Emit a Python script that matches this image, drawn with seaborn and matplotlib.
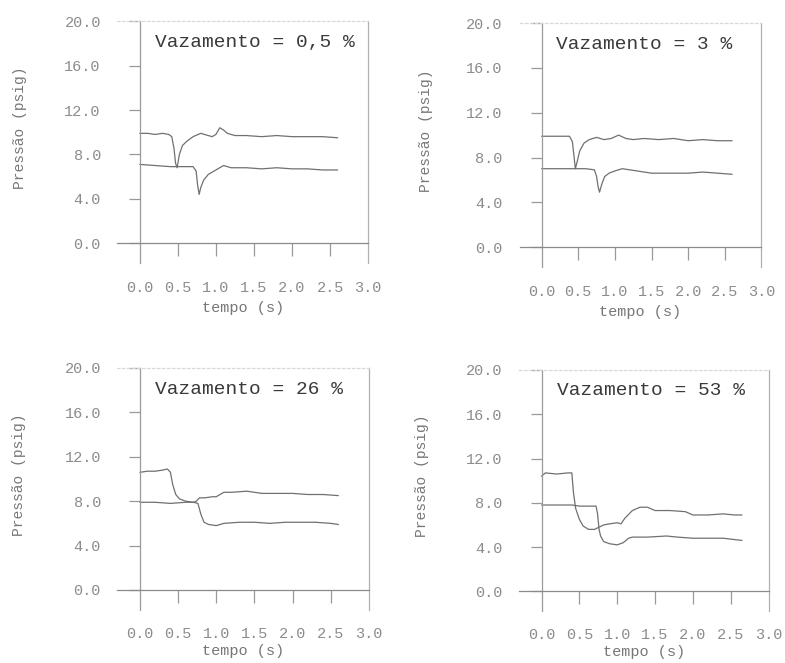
import numpy as np
import pandas as pd
import matplotlib
matplotlib.use('Agg')
import matplotlib.pyplot as plt
import seaborn as sns

sns.set_style('white')
plt.rcParams['font.family'] = ['Liberation Mono', 'DejaVu Sans Mono']

# Vazamento = 0,5 %
t_05_sup = [0, 0.1, 0.2, 0.3, 0.38, 0.42, 0.45, 0.47, 0.49, 0.52, 0.56, 0.62, 0.7, 0.8, 0.9, 0.95,
            1.0, 1.05, 1.1, 1.15, 1.25, 1.4, 1.6, 1.8, 2.0, 2.2, 2.4, 2.6]
p_05_sup = [9.9, 9.9, 9.8, 9.9, 9.8, 9.6, 8.5, 7.2, 6.8, 8.0, 8.8, 9.2, 9.6, 9.9, 9.7, 9.6,
            9.8, 10.4, 10.2, 9.9, 9.7, 9.7, 9.6, 9.7, 9.6, 9.6, 9.6, 9.5]
t_05_inf = [0, 0.2, 0.4, 0.6, 0.7, 0.74, 0.76, 0.78, 0.8, 0.84, 0.9, 1.0, 1.1, 1.2, 1.4, 1.6,
            1.8, 2.0, 2.2, 2.4, 2.6]
p_05_inf = [7.1, 7.0, 6.9, 6.9, 6.9, 6.5, 5.2, 4.4, 5.0, 5.7, 6.2, 6.6, 7.0, 6.8, 6.8, 6.7,
            6.8, 6.7, 6.7, 6.6, 6.6]

# Vazamento = 3 %
t_3_sup = [0, 0.1, 0.2, 0.3, 0.38, 0.42, 0.44, 0.46, 0.48, 0.52, 0.58, 0.65, 0.75, 0.85, 0.95,
           1.05, 1.15, 1.25, 1.4, 1.6, 1.8, 2.0, 2.2, 2.4, 2.6]
p_3_sup = [9.9, 9.9, 9.9, 9.9, 9.9, 9.4, 8.2, 7.0, 7.5, 8.6, 9.3, 9.6, 9.8, 9.6, 9.7,
           10.0, 9.7, 9.6, 9.7, 9.6, 9.7, 9.5, 9.6, 9.5, 9.5]
t_3_inf = [0, 0.2, 0.4, 0.6, 0.72, 0.75, 0.77, 0.79, 0.82, 0.86, 0.92, 1.0, 1.1, 1.3, 1.5,
           1.7, 2.0, 2.2, 2.4, 2.6]
p_3_inf = [7.0, 7.0, 7.0, 7.0, 6.9, 6.3, 5.4, 4.9, 5.6, 6.3, 6.6, 6.8, 7.0, 6.8, 6.6,
           6.6, 6.6, 6.7, 6.6, 6.5]

# Vazamento = 26 %
t_26_sup = [0, 0.1, 0.2, 0.3, 0.36, 0.4, 0.43, 0.47, 0.52, 0.6, 0.7, 0.76, 0.8, 0.84, 0.9,
            1.0, 1.1, 1.3, 1.5, 1.7, 1.9, 2.1, 2.3, 2.5, 2.6]
p_26_sup = [10.6, 10.7, 10.7, 10.8, 10.9, 10.6, 9.5, 8.6, 8.2, 8.0, 7.9, 7.8, 6.8, 6.1, 5.9,
            5.8, 6.0, 6.1, 6.1, 6.0, 6.1, 6.1, 6.1, 6.0, 5.9]
t_26_inf = [0, 0.2, 0.4, 0.6, 0.7, 0.74, 0.78, 0.85, 0.95, 1.0, 1.05, 1.1, 1.2, 1.4, 1.6,
            1.8, 2.0, 2.2, 2.4, 2.6]
p_26_inf = [7.9, 7.9, 7.8, 7.9, 7.9, 8.0, 8.3, 8.3, 8.4, 8.4, 8.6, 8.8, 8.8, 8.9, 8.7,
            8.7, 8.7, 8.6, 8.6, 8.5]

# Vazamento = 53 %
t_53_sup = [0, 0.05, 0.2, 0.35, 0.4, 0.42, 0.45, 0.5, 0.55, 0.62, 0.7, 0.76, 0.82, 0.9, 1.0,
            1.05, 1.1, 1.2, 1.3, 1.4, 1.5, 1.7, 1.9, 2.0, 2.2, 2.4, 2.55, 2.65]
p_53_sup = [10.4, 10.7, 10.6, 10.7, 10.7, 9.0, 7.5, 6.5, 5.9, 5.6, 5.6, 5.8, 6.0, 6.1, 6.2,
            6.1, 6.6, 7.3, 7.6, 7.6, 7.3, 7.3, 7.2, 6.9, 6.9, 7.0, 6.9, 6.9]
t_53_inf = [0, 0.2, 0.4, 0.5, 0.6, 0.72, 0.74, 0.76, 0.78, 0.82, 0.9, 1.0, 1.08, 1.15, 1.2,
            1.4, 1.65, 1.8, 2.0, 2.2, 2.4, 2.65]
p_53_inf = [7.8, 7.8, 7.8, 7.7, 7.7, 7.7, 7.0, 5.6, 5.0, 4.5, 4.3, 4.2, 4.4, 4.8, 4.9,
            4.9, 5.0, 4.9, 4.8, 4.8, 4.8, 4.6]

titulos = ['Vazamento = 0,5 %', 'Vazamento = 3 %', 'Vazamento = 26 %', 'Vazamento = 53 %']
y_ticks = [0, 4, 8, 12, 16, 20]
x_ticks = [0.0, 0.5, 1.0, 1.5, 2.0, 2.5, 3.0]

paineis = [
    (t_05_sup, p_05_sup, t_05_inf, p_05_inf),
    (t_3_sup, p_3_sup, t_3_inf, p_3_inf),
    (t_26_sup, p_26_sup, t_26_inf, p_26_inf),
    (t_53_sup, p_53_sup, t_53_inf, p_53_inf),
]

posicoes = [
    [0.149, 0.603, 0.320, 0.365],
    [0.662, 0.597, 0.308, 0.368],
    [0.149, 0.080, 0.321, 0.365],
    [0.661, 0.078, 0.318, 0.364],
]

fig = plt.figure(figsize=(7.85, 6.63), dpi=100)
fig.patch.set_facecolor('white')

for i, (ts, ps, ti, pi) in enumerate(paineis):
    ax = fig.add_axes(posicoes[i])
    sns.lineplot(x=ts, y=ps, ax=ax, color='#707070', lw=0.9, sort=False, estimator=None)
    sns.lineplot(x=ti, y=pi, ax=ax, color='#707070', lw=0.9, sort=False, estimator=None)
    ax.set_xlim(-0.3, 3.0)
    ax.set_ylim(-1.8, 20)

    # box: left edge at t=0, horizontal axis line at p=0
    ax.spines['left'].set_position(('data', 0))
    ax.spines['left'].set_color('#9a9a9a')
    ax.spines['bottom'].set_position(('data', 0))
    ax.spines['bottom'].set_color('#8a8a8a')
    ax.spines['right'].set_color('#b0b0b0')
    ax.spines['right'].set_linestyle((0, (3, 1)))
    ax.spines['top'].set_color('#d8d8d8')
    ax.spines['top'].set_linestyle((0, (2, 2)))
    for s in ax.spines.values():
        s.set_linewidth(0.9)

    ax.set_xticks(x_ticks[1:-1])
    ax.tick_params(axis='x', bottom=True, direction='out', length=9, width=0.9,
                   color='#999999', labelbottom=False)
    ax.set_yticks(y_ticks)
    ax.set_yticklabels([f'{v:.1f}' for v in y_ticks])
    ax.tick_params(axis='y', left=True, direction='out', length=8, width=0.9,
                   color='#999999', pad=20, labelsize=11, labelcolor='#8c8c8c')
    ax.set_ylabel('Pressão (psig)', fontsize=10.5, color='#777777')
    ax.yaxis.set_label_coords(-0.36, 0.56)
    ax.set_xlabel('')

    sec = ax.secondary_xaxis(-0.075 if i < 2 else -0.07)
    sec.set_xticks(x_ticks)
    sec.set_xticklabels([f'{v:.1f}' for v in x_ticks])
    sec.tick_params(length=0, labelsize=11, labelcolor='#8c8c8c', pad=0)
    sec.spines['bottom'].set_visible(False)
    sec.set_xlabel('tempo (s)', fontsize=11, color='#777777', labelpad=4 if i < 2 else 2)

    ax.text(0.2, 18.1, titulos[i], fontsize=14, color='#3a3a3a', va='center', ha='left')

plt.savefig('out.png', dpi=100, facecolor='white')
plt.close()
